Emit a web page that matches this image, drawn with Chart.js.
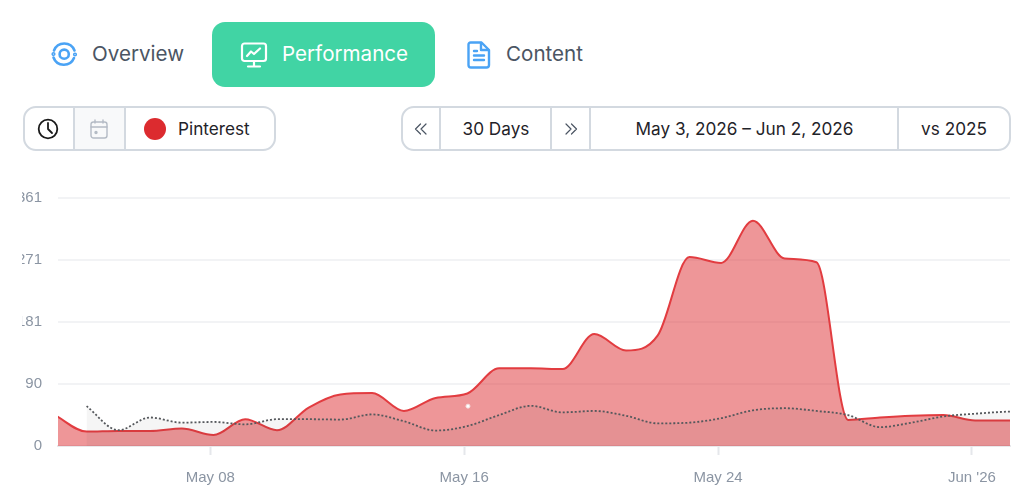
<!DOCTYPE html>
<html>
<head>
<meta charset="utf-8">
<title>Performance</title>
<script src="https://cdn.jsdelivr.net/npm/chart.js@4/dist/chart.umd.js"></script>
<style>
    html, body { margin: 0; padding: 0; background: #fff; }
    body { width: 1024px; height: 500px; position: relative; overflow: hidden; font-family: Inter, "Noto Sans", sans-serif; }
    .tab { position: absolute; font-size: 20.6px; line-height: 24px; color: #4b5563; white-space: nowrap; }
    .tab-active { position: absolute; left: 212px; top: 22px; width: 223px; height: 65px; border-radius: 13px; background: #41d4a4; }
    .group { position: absolute; top: 106px; height: 41px; border: 2px solid #d3d9e0; border-radius: 13px; background: #fff; overflow: hidden; }
    .cell { position: absolute; top: 0; height: 41px; line-height: 42px; text-align: center; font-size: 17.2px; color: #1f2329; border-left: 2px solid #d3d9e0; box-sizing: border-box; white-space: nowrap; }
    .cell.first { border-left: 0; }
    svg { position: absolute; }
    #chart { position: absolute; left: 22px; top: 173px; }
</style>
</head>
<body>

<!-- tabs -->
<svg style="left:50px;top:40px" width="28" height="28" viewBox="0 0 28 28" fill="none" stroke="#4aa3f5" stroke-width="2.6" stroke-linecap="round">
    <path d="M4 10.5 A11 11 0 0 1 24.5 10.5"/>
    <path d="M24 18 A11 11 0 0 1 3.5 17.5"/>
    <circle cx="14.2" cy="14.2" r="4.6"/>
    <circle cx="3.5" cy="14" r="0.8"/>
    <circle cx="25" cy="14.5" r="0.8"/>
</svg>
<div class="tab" style="left:92px;top:42px">Overview</div>

<div class="tab-active"></div>
<svg style="left:240px;top:41px" width="28" height="28" viewBox="0 0 28 28" fill="none" stroke="#fff" stroke-width="2.2" stroke-linecap="round" stroke-linejoin="round">
    <rect x="2" y="2.5" width="24" height="17.5" rx="2.5"/>
    <path d="M7 15 L11 10.5 L14 13 L20 7.5"/>
    <path d="M14 20 V25 M8 25.5 H20"/>
</svg>
<div class="tab" style="left:282px;top:42px;color:#fff">Performance</div>

<svg style="left:466px;top:41px" width="26" height="28" viewBox="0 0 26 28" fill="none" stroke="#4aa3f5" stroke-width="2.4" stroke-linecap="round" stroke-linejoin="round">
    <path d="M4.5 1.5 H15.5 L23 9 V24 A2.5 2.5 0 0 1 20.5 26.5 H5 A2.5 2.5 0 0 1 2.5 24 V3.5 A2 2 0 0 1 4.5 1.5 Z"/>
    <path d="M15 2 V9 H22.5"/>
    <path d="M8 14.5 H18 M8 19 H18 M8 10 H11"/>
</svg>
<div class="tab" style="left:506px;top:42px">Content</div>

<!-- platform picker -->
<div class="group" style="left:23px;width:249px">
    <div class="cell first" style="left:0;width:48px"></div>
    <div class="cell" style="left:48px;width:51px;background:#f8f9fa"></div>
    <div class="cell" style="left:99px;width:150px;text-align:left;padding-left:52px">Pinterest</div>
</div>
<svg style="left:37px;top:118px" width="22" height="22" viewBox="0 0 22 22" fill="none" stroke="#1a1a1a" stroke-width="1.8" stroke-linecap="round" stroke-linejoin="round">
    <circle cx="11" cy="11" r="9.3"/>
    <path d="M11 5 V11 L15 15"/>
</svg>
<svg style="left:90px;top:119px" width="18" height="20" viewBox="0 0 18 20" fill="none" stroke="#b4bbc5" stroke-width="1.4" stroke-linecap="round">
    <rect x="1" y="3" width="16" height="16" rx="2.5"/>
    <path d="M1 8 H17 M5 1 V4 M13 1 V4"/>
    <circle cx="6" cy="13.5" r="1" fill="#b4bbc5"/>
</svg>
<svg style="left:144px;top:118px" width="22" height="22"><circle cx="11" cy="11" r="11" fill="#dc2b2f"/></svg>

<!-- date range controls -->
<div class="group" style="left:401px;width:606px">
    <div class="cell first" style="left:0;width:37px"></div>
    <div class="cell" style="left:36px;width:112px">30 Days</div>
    <div class="cell" style="left:147px;width:40px"></div>
    <div class="cell" style="left:186px;width:309px">May 3, 2026 – Jun 2, 2026</div>
    <div class="cell" style="left:494px;width:112px">vs 2025</div>
</div>
<svg style="left:414px;top:122px" width="14" height="14" viewBox="0 0 14 14" fill="none" stroke="#4b5563" stroke-width="1.2" stroke-linecap="round" stroke-linejoin="round">
    <path d="M6.5 2 L1.5 7 L6.5 12 M12 2 L7 7 L12 12"/>
</svg>
<svg style="left:564px;top:122px" width="14" height="14" viewBox="0 0 14 14" fill="none" stroke="#4b5563" stroke-width="1.2" stroke-linecap="round" stroke-linejoin="round">
    <path d="M2 2 L7 7 L2 12 M7.5 2 L12.5 7 L7.5 12"/>
</svg>

<canvas id="chart" width="993" height="327"></canvas>

<script>
// day of the month for each sample, June carries on from May (Jun 1 = 32)
const days = [3, 4, 5, 6, 7, 8, 9, 10, 11, 12, 13, 14, 15, 16, 17, 18, 19, 20, 21, 22, 23, 24, 25, 26, 27, 28, 29, 30, 31, 32, 33, 34];
const current = [45, 21, 22, 22, 25.5, 16, 39, 23, 56, 75, 77, 51, 70, 76.5, 113, 113, 112, 163, 139, 161, 275, 266.5, 328, 273, 267.5, 38, 41.5, 44, 45, 37, 37, 37];
const previous = [null, 58, 23, 41.5, 34, 35, 31.5, 39, 39, 38.5, 46, 36, 22.5, 29, 45, 58.5, 49, 51, 44, 33, 34, 40.5, 52, 55, 51, 45, 27.5, 34, 43, 47, 50, 51];
const yTicks = [0, 90, 181, 271, 361];
const xTickDays = [8, 16, 24, 32];
const xTickLabels = ['May 08', 'May 16', 'May 24', "Jun '26"];
const markerDay = [16.12];
const markerValue = [58];

// samples sit just after midnight, the visible window starts a touch later
const HOUR_SHIFT = 0.1;
const X_MIN = 3.2;
const X_MAX = 33.2;
const toPoints = values => values.map((v, i) => ({ x: days[i] + HOUR_SHIFT, y: v }));

const TICK_COLOR = '#8b95a3';
const tickFont = { family: '"Liberation Sans"', size: 15 };

new Chart(document.getElementById('chart').getContext('2d'), {
    type: 'line',
    data: {
        datasets: [
            {
                label: 'Marker',
                data: markerDay.map((d, i) => ({ x: d, y: markerValue[i] })),
                showLine: false,
                pointRadius: 2,
                pointBackgroundColor: '#fff',
                pointBorderColor: '#f3dcdc',
                pointBorderWidth: 1
            },
            {
                label: 'vs 2025',
                data: toPoints(previous),
                borderColor: '#55585c',
                borderWidth: 1.8,
                borderDash: [2, 2],
                backgroundColor: 'rgba(60, 60, 60, 0.05)',
                fill: 'origin',
                pointRadius: 0,
                cubicInterpolationMode: 'monotone',
                spanGaps: false
            },
            {
                label: 'Pinterest',
                data: toPoints(current),
                borderColor: '#e23c40',
                borderWidth: 2,
                backgroundColor: 'rgba(222, 45, 50, 0.5)',
                fill: 'origin',
                pointRadius: 0,
                cubicInterpolationMode: 'monotone'
            }
        ]
    },
    options: {
        responsive: false,
        animation: false,
        layout: { padding: { top: 10, right: 2 } },
        plugins: { legend: { display: false }, tooltip: { enabled: false } },
        scales: {
            x: {
                type: 'linear',
                min: X_MIN,
                max: X_MAX,
                afterBuildTicks: scale => { scale.ticks = xTickDays.map(v => ({ value: v })); },
                afterFit: scale => { scale.height = 54; },
                grid: { drawOnChartArea: false, tickLength: 9, tickColor: '#e5e7eb', tickWidth: 2 },
                border: { color: '#e8e9ec', width: 2 },
                ticks: {
                    color: TICK_COLOR,
                    font: tickFont,
                    padding: 14,
                    autoSkip: false,
                    maxRotation: 0,
                    callback: value => xTickLabels[xTickDays.indexOf(value)]
                }
            },
            y: {
                min: 0,
                max: 361,
                afterBuildTicks: scale => { scale.ticks = yTicks.map(v => ({ value: v })); },
                afterFit: scale => { scale.width = 36; },
                grid: { color: '#f2f3f5', lineWidth: 2, drawTicks: false },
                border: { display: false },
                ticks: { color: TICK_COLOR, font: tickFont, padding: 16 }
            }
        }
    }
});
</script>
</body>
</html>
